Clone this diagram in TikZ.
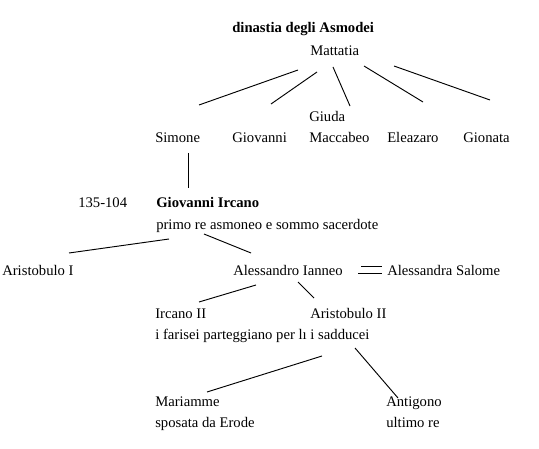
\documentclass[tikz,border=0pt]{standalone}
\usepackage{fontspec}
\setmainfont{Liberation Serif}
\tikzset{every node/.style={font=\fontsize{11}{13}\selectfont,anchor=base west,inner sep=0pt},
  link/.style={line width=.7pt},title/.style={font=\fontsize{11}{13}\selectfont\bfseries}}

\begin{document}
\begin{tikzpicture}[x=.75pt,y=-.75pt]
\useasboundingbox (0,0) rectangle (539,449);
\node[title] (dyn) at (232,33) {dinastia degli Asmodei};
\node (mattatia) at (310,56) {Mattatia};
\node (giuda) at (309,122) {Giuda};
\node (simone) at (155,143) {Simone};
\node (giovanni) at (232,143) {Giovanni};
\node (maccabeo) at (309,143) {Maccabeo};
\node (eleazaro) at (387,143) {Eleazaro};
\node (gionata) at (463,143) {Gionata};
\node (anni) at (78,208) {135-104};
\node[title] (ircano) at (156,208) {Giovanni Ircano};
\node (primo) at (156,229) {primo re asmoneo e sommo sacerdote};
\node (aristI) at (2,275) {Aristobulo I};
\node (alessandro) at (233,275) {Alessandro Ianneo};
\node (salome) at (387,275) {Alessandra Salome};
\node (ircanoII) at (155,318) {Ircano II};
\node (aristII) at (310,318) {Aristobulo II};
\node (farisei) at (155,339) {i farisei parteggiano per lı i sadducei};
\node (mariamme) at (155,406) {Mariamme};
\node (sposata) at (155,427) {sposata da Erode};
\node (antigono) at (386,406) {Antigono};
\node (ultimo) at (386,427) {ultimo re};
% figli di Mattatia
\draw[link] ([shift={(-12,14)}]mattatia.base west)--([shift={(44,-38)}]simone.base west);
\draw[link] ([shift={(7,16)}]mattatia.base west)--([shift={(39,-39)}]giovanni.base west);
\draw[link] ([shift={(23,11)}]mattatia.base west)--([shift={(41,-16)}]giuda.base west);
\draw[link] ([shift={(54,10)}]mattatia.base west)--([shift={(36,-41)}]eleazaro.base west);
\draw[link] ([shift={(84,10)}]mattatia.base west)--([shift={(27,-43)}]gionata.base west);
\draw[link] ([shift={(33,10)}]simone.base west)--([shift={(32,-20)}]ircano.base west);
% discendenti
\draw[link] ([shift={(13,10)}]primo.base west)--([shift={(67,-22)}]aristI.base west);
\draw[link] ([shift={(48,5)}]primo.base west)--([shift={(18,-22)}]alessandro.base west);
\draw[link] ([shift={(128,-9)}]alessandro.base west)--([shift={(-5,-9)}]salome.base west);
\draw[link] ([shift={(125,-2)}]alessandro.base west)--([shift={(-5,-2)}]salome.base west);
\draw[link] ([shift={(23,10)}]alessandro.base west)--([shift={(44,-16)}]ircanoII.base west);
\draw[link] ([shift={(65,7)}]alessandro.base west)--([shift={(4,-20)}]aristII.base west);
\draw[link] ([shift={(167,17)}]farisei.base west)--([shift={(52,-14)}]mariamme.base west);
\draw[link] ([shift={(200,9)}]farisei.base west)--([shift={(12,-8)}]antigono.base west);
\end{tikzpicture}
\end{document}
